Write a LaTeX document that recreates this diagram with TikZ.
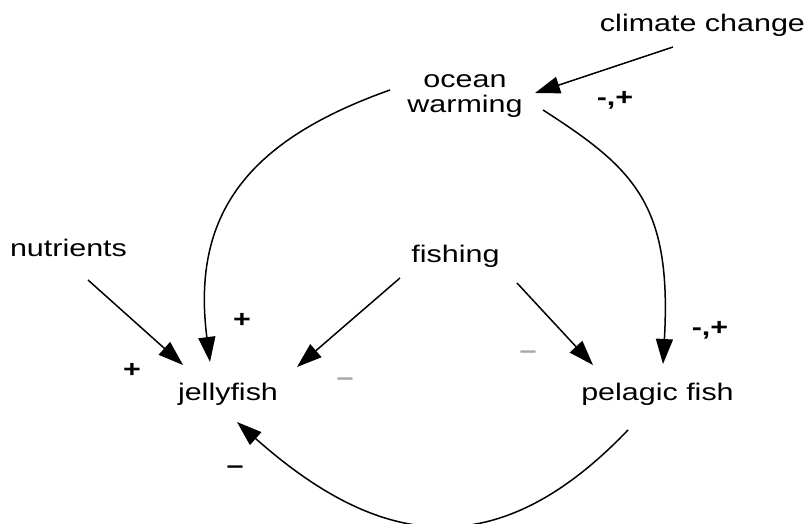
\documentclass[tikz,border=0pt]{standalone}
\usepackage{fontspec}
\setmainfont[FakeStretch=1.27]{Liberation Sans}
\usetikzlibrary{arrows.meta,calc}
\begin{document}
\begin{tikzpicture}[x=1pt,y=-1pt,
  lbl/.style={inner sep=0pt,font=\fontsize{24}{25}\selectfont,align=center},
  sgn/.style={inner sep=0pt,font=\fontsize{24}{25}\selectfont},
  arr/.style={line width=1.5pt,-{Triangle[length=25pt,width=17pt]}}]
\useasboundingbox (0,0) rectangle (807,524);
\fill[white] (0,0) rectangle (807,524);
% concept nodes
\node[lbl,anchor=base] (cc) at (702.5,32) {climate change};
\node[lbl,anchor=base] (ow) at (465,113) {ocean\\warming};
\node[lbl,anchor=base] (nu) at (68.5,257) {nutrients};
\node[lbl,anchor=base] (fi) at (455.5,263) {fishing};
\node[lbl,anchor=base] (jf) at (228,400) {jellyfish};
\node[lbl,anchor=base] (pf) at (657.5,400) {pelagic fish};
% connectors
\draw[arr] ($(cc.base)+(-29.5,15)$) -- ($(ow.base)+(70,-20)$);
\draw[arr] ($(ow.base)+(-75,-23)$) .. controls +(-141,50) and +(-19,-149) .. ($(jf.base)+(-18,-38)$);
\draw[arr] ($(ow.base)+(78,-3)$) .. controls +(92,59) and +(9,-159) .. ($(pf.base)+(5.5,-36)$);
\draw[arr] ($(nu.base)+(19.5,23)$) -- ($(jf.base)+(-45,-35)$);
\draw[arr] ($(fi.base)+(-55.5,15)$) -- ($(jf.base)+(69,-33)$);
\draw[arr] ($(fi.base)+(61.5,20)$) -- ($(pf.base)+(-64.5,-35)$);
\draw[arr] ($(pf.base)+(-29.5,30)$) .. controls +(-131,137) and +(143,127) .. ($(jf.base)+(9,22)$);
% polarity labels
\node[sgn] (s1) at (615,100) {\textbf{-,+}};
\node[sgn] (s2) at (710,330) {\textbf{-,+}};
\node[sgn] (s3) at (242,320) {\textbf{+}};
\node[sgn] (s4) at (132,370) {\textbf{+}};
\node[sgn,text=black!35] (s5) at (345,382) {\textbf{–}};
\node[sgn,text=black!35] (s6) at (528,355) {\textbf{–}};
\node[sgn] (s7) at (235,470) {\textbf{–}};
\end{tikzpicture}
\end{document}
